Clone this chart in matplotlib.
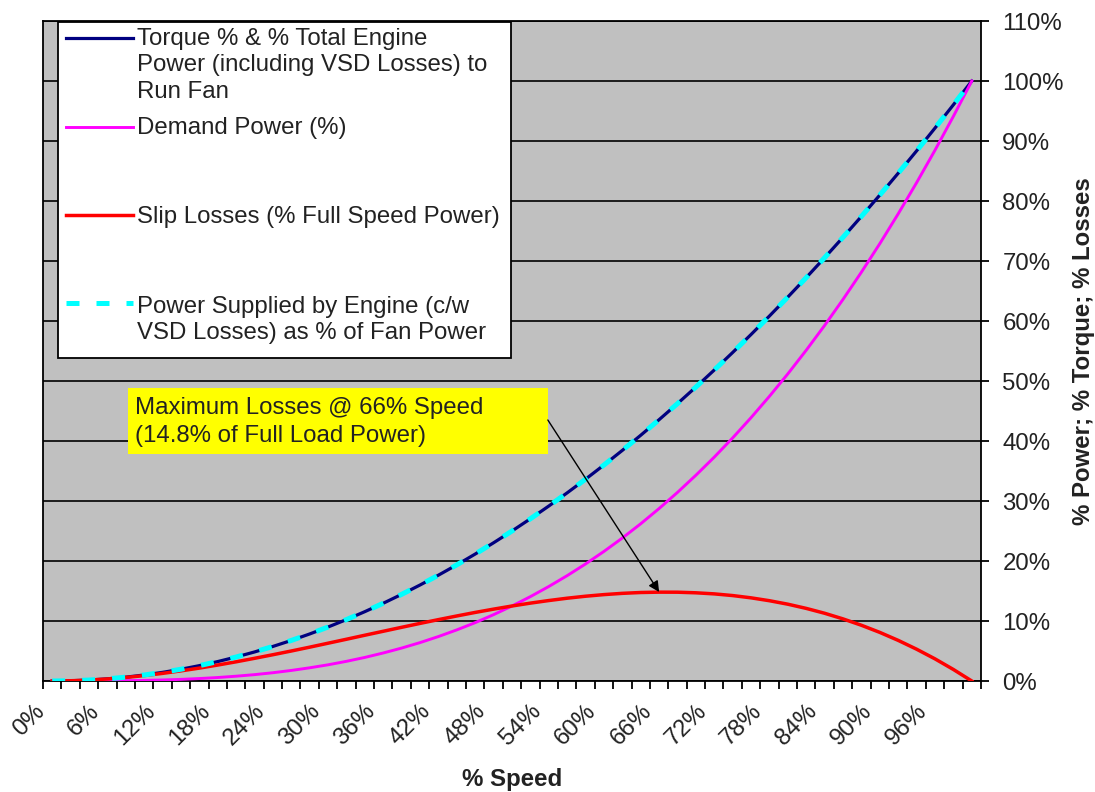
import matplotlib
matplotlib.use('Agg')
from matplotlib import pyplot as plt
from matplotlib.patches import Rectangle
from matplotlib.lines import Line2D
from matplotlib.ticker import FuncFormatter
from matplotlib.transforms import ScaledTranslation

plt.rcParams['font.family'] = ['Liberation Sans', 'DejaVu Sans']

# % speed, one category every 2%
speed = [0, 2, 4, 6, 8, 10, 12, 14, 16, 18, 20, 22, 24, 26, 28, 30, 32, 34, 36, 38,
         40, 42, 44, 46, 48, 50, 52, 54, 56, 58, 60, 62, 64, 66, 68, 70, 72, 74, 76, 78,
         80, 82, 84, 86, 88, 90, 92, 94, 96, 98, 100]

# torque % & total engine power (incl. VSD losses)
torque = [0.0, 0.04, 0.16, 0.36, 0.64, 1.0, 1.44, 1.96, 2.56, 3.24, 4.0, 4.84, 5.76, 6.76,
          7.84, 9.0, 10.24, 11.56, 12.96, 14.44, 16.0, 17.64, 19.36, 21.16, 23.04, 25.0,
          27.04, 29.16, 31.36, 33.64, 36.0, 38.44, 40.96, 43.56, 46.24, 49.0, 51.84, 54.76,
          57.76, 60.84, 64.0, 67.24, 70.56, 73.96, 77.44, 81.0, 84.64, 88.36, 92.16, 96.04, 100.0]

# demand power %
demand = [0.0, 0.0, 0.01, 0.02, 0.05, 0.1, 0.17, 0.27, 0.41, 0.58, 0.8, 1.06, 1.38, 1.76,
          2.2, 2.7, 3.28, 3.93, 4.67, 5.49, 6.4, 7.41, 8.52, 9.73, 11.06, 12.5, 14.06, 15.75,
          17.56, 19.51, 21.6, 23.83, 26.21, 28.75, 31.44, 34.3, 37.32, 40.52, 43.9, 47.46,
          51.2, 55.14, 59.27, 63.61, 68.15, 72.9, 77.87, 83.06, 88.47, 94.12, 100.0]

# slip losses (% full speed power)
slip = [0.0, 0.04, 0.15, 0.34, 0.59, 0.9, 1.27, 1.69, 2.15, 2.66, 3.2, 3.78, 4.38, 5.0,
        5.64, 6.3, 6.96, 7.63, 8.29, 8.95, 9.6, 10.23, 10.84, 11.43, 11.98, 12.5, 12.98,
        13.41, 13.8, 14.13, 14.4, 14.61, 14.75, 14.81, 14.8, 14.7, 14.52, 14.24, 13.86,
        13.38, 12.8, 12.1, 11.29, 10.35, 9.29, 8.1, 6.77, 5.3, 3.69, 1.92, 0.0]

# power supplied by engine (c/w VSD losses) as % of fan power
supplied = torque

labels = ['Torque % & % Total Engine\nPower (including VSD Losses) to\nRun Fan',
          'Demand Power (%)',
          'Slip Losses (% Full Speed Power)',
          'Power Supplied by Engine (c/w\nVSD Losses) as % of Fan Power']

xtick_vals = list(range(0, 97, 6))
ytick_vals = list(range(0, 111, 10))

fs = 17.3
txt_col = '#222222'

fig = plt.figure(figsize=(10.95, 7.92), dpi=100)
ax = fig.add_axes([0.03927, 0.14015, 0.8566, 0.8333])
ax.set_facecolor('#c0c0c0')

l1, = ax.plot(speed, torque, color='#000080', lw=2.3, zorder=3)
l2, = ax.plot(speed, demand, color='#ff00ff', lw=2.1, zorder=3)
l3, = ax.plot(speed, slip, color='#ff0000', lw=2.5, zorder=3)
l4, = ax.plot(speed, supplied, color='#00ffff', lw=3.6, dashes=(2.6, 3.4), zorder=4)

# category axis: half a category of room at each end
ax.set_xlim(-1, 101)
ax.set_ylim(0, 110)

# y axis on the right, grid every 10%
ax.yaxis.tick_right()
ax.yaxis.set_label_position('right')
ax.set_yticks(ytick_vals)
ax.yaxis.set_major_formatter(FuncFormatter(lambda v, p: '%d%%' % v))
ax.grid(axis='y', color='black', lw=1.2)
ax.set_axisbelow(True)

# tick marks between categories, labels every third category
ax.set_xticks(xtick_vals)
ax.set_xticks(range(-1, 102, 2), minor=True)
ax.set_xticklabels(['%d%%' % v for v in xtick_vals], rotation=45,
                   ha='right', va='center', rotation_mode='anchor')
ax.tick_params(axis='x', which='major', length=0, pad=19.5, labelsize=fs, labelcolor=txt_col)
ax.tick_params(axis='x', which='minor', direction='out', length=6, width=1.3)
ax.tick_params(axis='y', direction='out', length=6, width=1.3, pad=9.4,
               labelsize=fs, labelcolor=txt_col)
shift = ScaledTranslation(-11 / 100, 0, fig.dpi_scale_trans)
for lab in ax.get_xticklabels():
    lab.set_transform(lab.get_transform() + shift)

for s in ax.spines.values():
    s.set_color('black')
    s.set_linewidth(1.3)

ax.set_xlabel('% Speed', fontsize=fs, fontweight='bold', color=txt_col)
ax.xaxis.set_label_coords(0.5, -0.132)
ax.set_ylabel('% Power; % Torque; % Losses', fontsize=fs, fontweight='bold',
              color=txt_col, labelpad=6)

# legend box laid out like the spreadsheet one (handle on the first text line)
ax.add_patch(Rectangle((0.016, 0.4894), 0.4829, 0.5086, transform=ax.transAxes,
                       facecolor='white', edgecolor='black', lw=1.3, zorder=7))
hand_y = [0.9738, 0.8398, 0.7061, 0.5727]
top_y = [0.9894, 0.8545, 0.7197, 0.5833]
for line, lab, hy, ty in zip([l1, l2, l3, l4], labels, hand_y, top_y):
    h = Line2D([0.0245, 0.0959], [hy, hy])
    h.update_from(line)
    h.set_transform(ax.transAxes)
    h.set_zorder(8)
    ax.add_line(h)
    ax.text(0.100, ty, lab, transform=ax.transAxes, fontsize=fs, va='top',
            ha='left', color=txt_col, linespacing=1.26, zorder=8)

# callout
ax.add_patch(Rectangle((8.24, 37.83), 45.67, 11.0, facecolor='#ffff00',
                       edgecolor='none', zorder=5))
ax.text(9.0, 47.33, 'Maximum Losses @ 66% Speed\n(14.8% of Full Load Power)',
        fontsize=fs, va='top', ha='left', color=txt_col, linespacing=1.38, zorder=6)
ax.annotate('', xy=(66, 14.83), xytext=(53.9, 43.5),
            arrowprops=dict(arrowstyle='-|>', color='black', lw=1.0, mutation_scale=16,
                            shrinkA=0, shrinkB=0),
            zorder=6)

fig.savefig('out.png', dpi=100)
